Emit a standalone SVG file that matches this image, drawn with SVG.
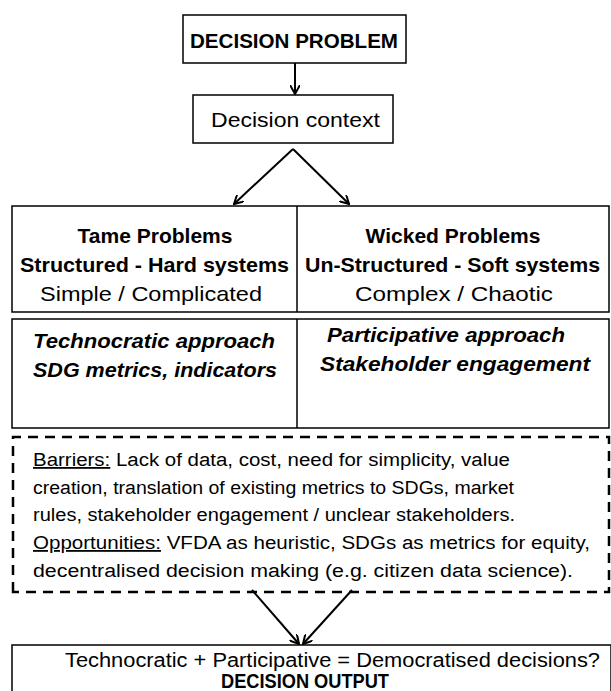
<svg xmlns="http://www.w3.org/2000/svg" width="611" height="691" viewBox="0 0 611 691">
<style>
text{font-family:"Liberation Sans",Arial,sans-serif;fill:#000}
.box{fill:#fff;stroke:#000;stroke-width:1.5}
.dash{fill:none;stroke:#000;stroke-width:2.5;stroke-dasharray:10 7}
.b{font-weight:bold}
.bi{font-weight:bold;font-style:italic}
.c{text-anchor:middle}
.t20{font-size:20px}
.t21{font-size:21px}
.t18{font-size:18px}
.conn{stroke:#000;stroke-width:2;fill:none}
</style>
<defs>
<marker id="ah" viewBox="0 0 10 10" refX="9" refY="5" markerWidth="10" markerHeight="10" markerUnits="userSpaceOnUse" orient="auto">
<path d="M0,0 L9,5 L0,10" fill="none" stroke="#000" stroke-width="2"/>
</marker>
</defs>
<g id="connectors">
<line class="conn" x1="295" y1="63" x2="295" y2="94" marker-end="url(#ah)"/>
<line class="conn" x1="293" y1="149" x2="234" y2="204" marker-end="url(#ah)"/>
<line class="conn" x1="293" y1="149" x2="349" y2="204" marker-end="url(#ah)"/>
<line class="conn" x1="252" y1="590" x2="299" y2="644" marker-end="url(#ah)"/>
<line class="conn" x1="352" y1="590" x2="303" y2="644" marker-end="url(#ah)"/>
</g>
<g id="decision-problem">
<rect class="box" x="183" y="15" width="223" height="48"/>
<text class="b t20" x="190" y="48" textLength="208" lengthAdjust="spacingAndGlyphs">DECISION PROBLEM</text>
</g>
<g id="decision-context">
<rect class="box" x="193" y="95" width="200" height="48"/>
<text class="t21" x="211" y="127" textLength="169" lengthAdjust="spacingAndGlyphs">Decision context</text>
</g>
<g id="problems">
<rect class="box" x="12" y="206" width="597" height="106"/>
<line x1="297" y1="206" x2="297" y2="312" stroke="#000" stroke-width="1.5"/>
<text class="b t21 c" x="155" y="243">Tame Problems</text>
<text class="b t21" x="20" y="272" textLength="269" lengthAdjust="spacingAndGlyphs">Structured - Hard systems</text>
<text class="t21" x="40" y="301" textLength="222" lengthAdjust="spacingAndGlyphs">Simple / Complicated</text>
<text class="b t21 c" x="453" y="243">Wicked Problems</text>
<text class="b t21" x="305" y="272" textLength="295" lengthAdjust="spacingAndGlyphs">Un-Structured - Soft systems</text>
<text class="t21" x="355" y="301" textLength="198" lengthAdjust="spacingAndGlyphs">Complex / Chaotic</text>
</g>
<g id="approaches">
<rect class="box" x="12" y="319" width="597" height="109"/>
<line x1="297" y1="319" x2="297" y2="428" stroke="#000" stroke-width="1.5"/>
<text class="bi t21" x="33" y="348" textLength="242" lengthAdjust="spacingAndGlyphs">Technocratic approach</text>
<text class="bi t21" x="33" y="377" textLength="244" lengthAdjust="spacingAndGlyphs">SDG metrics, indicators</text>
<text class="bi t21" x="327" y="342" textLength="238" lengthAdjust="spacingAndGlyphs">Participative approach</text>
<text class="bi t21" x="320" y="371" textLength="270" lengthAdjust="spacingAndGlyphs">Stakeholder engagement</text>
</g>
<g id="barriers">
<path class="dash" d="M13,592 V437 H609 V592 Z"/>
<text class="t18" x="33" y="466" textLength="477" lengthAdjust="spacingAndGlyphs"><tspan text-decoration="underline">Barriers:</tspan> Lack of data, cost, need for simplicity, value</text>
<text class="t18" x="33" y="494" textLength="481" lengthAdjust="spacingAndGlyphs">creation, translation of existing metrics to SDGs, market</text>
<text class="t18" x="33" y="521" textLength="482" lengthAdjust="spacingAndGlyphs">rules, stakeholder engagement / unclear stakeholders.</text>
<text class="t18" x="33" y="549" textLength="557" lengthAdjust="spacingAndGlyphs"><tspan text-decoration="underline">Opportunities:</tspan> VFDA as heuristic, SDGs as metrics for equity,</text>
<text class="t18" x="33" y="577" textLength="540" lengthAdjust="spacingAndGlyphs">decentralised decision making (e.g. citizen data science).</text>
</g>
<g id="decision-output">
<rect class="box" x="12" y="645" width="599" height="60"/>
<text class="t20" x="65" y="667" textLength="535" lengthAdjust="spacingAndGlyphs">Technocratic + Participative = Democratised decisions?</text>
<text class="b t20" x="221" y="688" textLength="168" lengthAdjust="spacingAndGlyphs">DECISION OUTPUT</text>
</g>
</svg>
